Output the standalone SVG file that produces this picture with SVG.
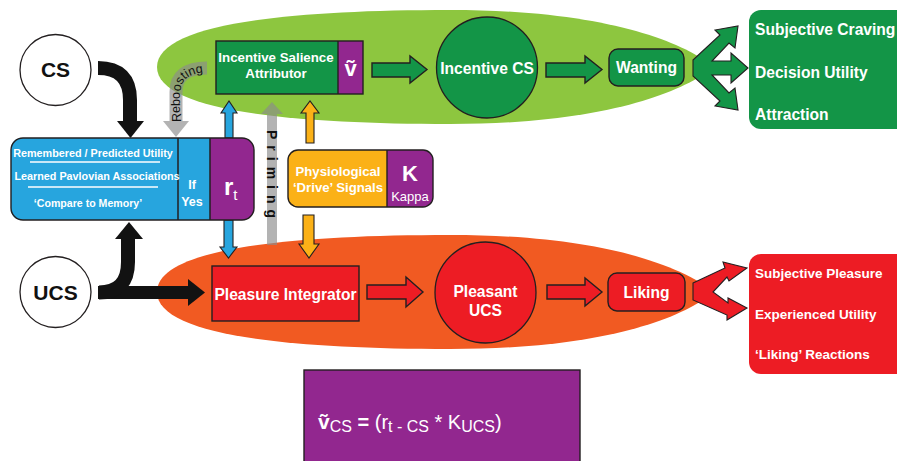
<svg xmlns="http://www.w3.org/2000/svg" width="897" height="461" viewBox="0 0 897 461">
<style>
text{font-family:"Liberation Sans",Arial,sans-serif;fill:#fff;font-weight:bold}
.c{text-anchor:middle}
.ol{stroke:#231f20;stroke-width:1.4}
.thin{stroke:#231f20;stroke-width:1.1}
.dg{fill:#139547}
.rd{fill:#ed1c24}
.pu{fill:#92278f}
.bl{fill:#27a5de}
.ye{fill:#fbb117}
.bk{fill:#121212}
.nw{font-weight:normal}
</style>
<rect width="897" height="461" fill="#fff"/>
<g id="wanting-region">
<path d="M157,67 C157,25 280,10 450,10 C600,10 680,40 714,67 C680,94 600,124 450,124 C280,124 157,109 157,67Z" fill="#8dc63f"/>
</g>
<g id="liking-region">
<path d="M157,292 C157,250 280,235 450,235 C600,235 680,265 714,292 C680,320 600,349 450,349 C280,349 157,334 157,292Z" fill="#f15a22"/>
</g>
<defs><path id="rbpath" d="M180.5,122 L180.5,93 Q180.5,72.5 208,72.5"/></defs>
<g id="connectors">
<g id="reboosting" opacity="0.65">
<path d="M176,122 L176,92 Q176,68 207,68" fill="none" stroke="#8c8c8c" stroke-width="13"/>
<polygon points="163,121 189,121 176,137" fill="#8c8c8c"/>
</g>
<text font-size="12.5" class="nw" style="fill:#111"><textPath href="#rbpath">Reboosting</textPath></text>
<g id="priming" opacity="0.65" fill="#8c8c8c">
<rect x="267" y="113" width="10" height="132"/>
<polygon points="261,114 272,102 283,114"/>
</g>
<text transform="translate(267,130) rotate(90)" font-size="14" style="fill:#111" letter-spacing="6">Priming</text>
<path d="M98,68 Q130,68 130,100 L130,122" fill="none" stroke="#121212" stroke-width="14"/>
<polygon class="bk" points="117,121 144,121 130.5,138"/>
<path d="M98,292.5 L190,292.5" fill="none" stroke="#121212" stroke-width="13"/>
<polygon class="bk" points="188,279 188,306 205,292.5"/>
<path d="M99,292.5 Q128,292.5 128,262 L128,238" fill="none" stroke="#121212" stroke-width="14"/>
<polygon class="bk" points="115,239 143,239 129,222"/>
<polygon class="dg ol" points="372,63 410,63 410,56 427,69.5 410,83 410,77 372,77"/>
<polygon class="dg ol" points="546,63 585,63 585,56 602,69.5 585,83 585,77 546,77"/>
<polygon class="rd ol" points="367,285 406,285 406,277 423,292 406,307 406,299 367,299"/>
<polygon class="rd ol" points="547,285 585,285 585,278 602,292 585,306 585,299 547,299"/>
<polygon class="bl thin" points="225,138 225,113 221,113 229,101 237,113 233,113 233,138"/>
<polygon class="bl thin" points="224,220 224,247 220,247 228.5,258 237,247 233,247 233,220"/>
<polygon class="ye thin" points="306,143 306,113 301,113 310,101 319,113 314,113 314,143"/>
<polygon class="ye thin" points="303,215 303,244 299,244 309,258 319,244 314,244 314,215"/>
<polygon class="dg thin" points="693,60 720,35 715,30 738,26 735,48 729,43 712,61 731,61 731,53 748,68 731,83 731,75 712,75 729,93 735,88 738,110 715,106 720,101 693,76"/>
<polygon class="rd thin" points="693,283 725,268 723,262 747,268 729,281 727,277 713,292 728,303 728,298 747,308 727,320 727,315 693,300"/>
</g>
<g id="cs">
<circle cx="55.5" cy="70" r="35.5" fill="#fff" stroke="#231f20" stroke-width="1.3"/>
<text x="55.5" y="77" class="c" font-size="21" style="fill:#111">CS</text>
</g>
<g id="ucs">
<circle cx="55.5" cy="292" r="35.5" fill="#fff" stroke="#231f20" stroke-width="1.3"/>
<text x="55.5" y="299.5" class="c" font-size="21" style="fill:#111">UCS</text>
</g>
<g id="memory">
<rect x="11" y="138" width="243" height="82" rx="12" class="pu"/>
<path d="M23,138 H210 V220 H23 Q11,220 11,208 V150 Q11,138 23,138Z" class="bl"/>
<line x1="178" y1="138" x2="178" y2="220" stroke="#231f20" stroke-width="1.5"/>
<line x1="210" y1="138" x2="210" y2="220" stroke="#231f20" stroke-width="1.5"/>
<rect x="11" y="138" width="243" height="82" rx="12" fill="none" stroke="#231f20" stroke-width="1.4"/>
<text x="93" y="157" class="c" font-size="10.8">Remembered / Predicted Utility</text>
<line x1="30" y1="162" x2="160" y2="162" stroke="#fff" stroke-width="1.6"/>
<text x="97" y="180" class="c" font-size="10.8">Learned Pavlovian Associations</text>
<line x1="28" y1="187" x2="158" y2="187" stroke="#fff" stroke-width="1.6"/>
<text x="88" y="207" class="c" font-size="10.6">‘Compare to Memory’</text>
<text x="192" y="189" class="c" font-size="12.5">If</text>
<text x="192" y="206" class="c" font-size="12.5">Yes</text>
<text x="224" y="195" font-size="24">r<tspan font-size="15" dy="5" font-weight="normal">t</tspan></text>
</g>
<g id="attributor">
<rect x="216" y="41" width="147" height="53" class="dg"/>
<rect x="338" y="41" width="25" height="53" class="pu"/>
<line x1="338" y1="41" x2="338" y2="94" stroke="#231f20" stroke-width="1.4"/>
<rect x="216" y="41" width="147" height="53" fill="none" class="ol"/>
<text x="276" y="62" class="c" font-size="13.3">Incentive Salience</text>
<text x="276" y="77.5" class="c" font-size="13.3">Attributor</text>
<text x="350.5" y="76" class="c" font-size="22">v&#x303;</text>
</g>
<g id="physiological">
<rect x="288" y="150" width="145" height="57" rx="10" class="pu"/>
<path d="M298,150 H387 V207 H298 Q288,207 288,197 V160 Q288,150 298,150Z" class="ye"/>
<line x1="387" y1="150" x2="387" y2="207" stroke="#231f20" stroke-width="1.4"/>
<rect x="288" y="150" width="145" height="57" rx="10" fill="none" class="ol"/>
<text x="338" y="176" class="c" font-size="13.2">Physiological</text>
<text x="338" y="192" class="c" font-size="13.2">‘Drive’ Signals</text>
<text x="410" y="181" class="c" font-size="22">K</text>
<text x="410" y="200.5" class="c nw" font-size="13">Kappa</text>
</g>
<g id="incentive-cs">
<circle cx="487" cy="67.5" r="50.5" class="dg" stroke="#231f20" stroke-width="1.3"/>
<text x="487" y="73.5" class="c" font-size="15.6">Incentive CS</text>
</g>
<g id="wanting">
<rect x="609" y="49" width="75" height="37" rx="9" class="dg ol"/>
<text x="646.5" y="73" class="c" font-size="15.6">Wanting</text>
</g>
<g id="wanting-outputs">
<rect x="749" y="10" width="160" height="119" rx="12" class="dg"/>
<text x="755" y="34.5" font-size="15.6">Subjective Craving</text>
<text x="755" y="77.5" font-size="15.6">Decision Utility</text>
<text x="755" y="119.5" font-size="15.6">Attraction</text>
</g>
<g id="pleasure-integrator">
<rect x="212" y="266" width="147" height="55" class="rd ol"/>
<text x="285.5" y="299.5" class="c" font-size="15.6">Pleasure Integrator</text>
</g>
<g id="pleasant-ucs">
<circle cx="485.5" cy="292.5" r="50.5" class="rd" stroke="#231f20" stroke-width="1.3"/>
<text x="485.5" y="297" class="c" font-size="15.6">Pleasant</text>
<text x="485.5" y="316" class="c" font-size="15.6">UCS</text>
</g>
<g id="liking">
<rect x="608" y="273" width="77" height="38" rx="9" class="rd ol"/>
<text x="646.5" y="298" class="c" font-size="15.6">Liking</text>
</g>
<g id="liking-outputs">
<rect x="749" y="254" width="160" height="120" rx="12" class="rd"/>
<text x="755" y="278" font-size="13.5">Subjective Pleasure</text>
<text x="755" y="318.5" font-size="13.5">Experienced Utility</text>
<text x="755" y="358.5" font-size="13.5">‘Liking’ Reactions</text>
</g>
<g id="formula">
<rect x="304" y="370" width="276" height="100" class="pu ol"/>
<text x="318" y="429" font-size="21">v&#x303;<tspan font-size="16" dy="3" font-weight="normal">CS</tspan><tspan dy="-3" font-size="20"> = </tspan><tspan font-weight="normal" font-size="20">(r</tspan><tspan font-weight="normal" font-size="16" dy="3">t - CS</tspan><tspan font-weight="normal" font-size="20" dy="-3"> * K</tspan><tspan font-weight="normal" font-size="16" dy="3">UCS</tspan><tspan font-weight="normal" font-size="20" dy="-3">)</tspan></text>
</g>
</svg>
